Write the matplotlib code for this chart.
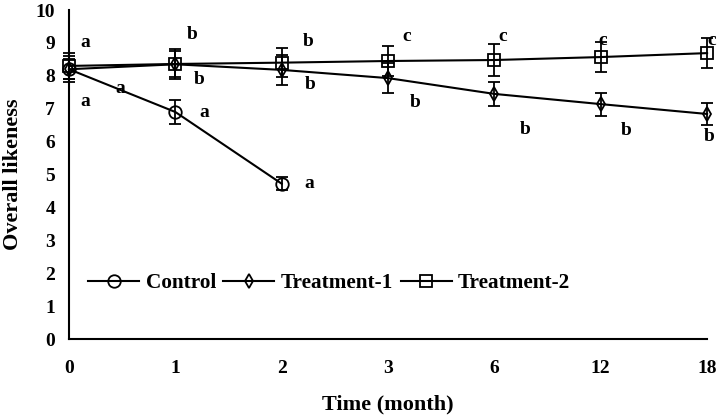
import numpy as np
import matplotlib
matplotlib.use("Agg")
import matplotlib.pyplot as plt

# data
months = ["0", "1", "2", "3", "6", "12", "18"]

control = [8.2, 6.9, 4.72]
control_err = [0.3, 0.35, 0.2]
control_letters = ["a", "a", "a"]

treat1 = [8.2, 8.35, 8.18, 7.93, 7.45, 7.14, 6.84]
treat1_err = [0.4, 0.4, 0.45, 0.45, 0.37, 0.35, 0.33]
treat1_letters = ["a", "b", "b", "b", "b", "b", "b"]

treat2 = [8.3, 8.36, 8.4, 8.45, 8.48, 8.57, 8.69]
treat2_err = [0.4, 0.45, 0.45, 0.45, 0.48, 0.45, 0.45]
treat2_letters = ["a", "b", "b", "c", "c", "c", "c"]

plt.rcParams["font.family"] = ["Liberation Serif", "DejaVu Serif"]
plt.rcParams["font.weight"] = "bold"

fig = plt.figure(figsize=(7.21, 4.17), dpi=100)
ax = fig.add_axes([0.0957, 0.187, 0.885, 0.789])

x = np.arange(len(months))

series = [
    (control, control_err, "o", 9, "Control"),
    (treat1, treat1_err, "d", 7, "Treatment-1"),
    (treat2, treat2_err, "s", 8.5, "Treatment-2"),
]
for vals, err, mk, ms, lab in series:
    xx = x[:len(vals)]
    ax.errorbar(xx, vals, yerr=err, fmt="none", ecolor="black",
                elinewidth=1.3, capsize=4, capthick=1.3, clip_on=False)
    ax.plot(xx, vals, color="black", lw=1.5, marker=mk, ms=ms,
            mfc="none", mec="black", mew=1.3, label=lab, clip_on=False)

# significance letters (offsets in pixels)
t2_off = [(16, 23), (17, 29), (26, 21), (19, 25), (8, 24), (2, 17), (5, 13)]
t1_off = [(16, -32), (24, -15), (28, -15), (27, -24), (31, -36), (25, -26),
          (2, -23)]
c_off = [(51, -19), (29, 0), (28, 0)]
for vals, letters, offs in [(treat2, treat2_letters, t2_off),
                            (treat1, treat1_letters, t1_off),
                            (control, control_letters, c_off)]:
    for i, (v, let) in enumerate(zip(vals, letters)):
        ax.annotate(let, (x[i], v), xytext=offs[i],
                    textcoords="offset pixels", ha="center", va="center",
                    fontsize=14, fontweight="bold", annotation_clip=False)

ax.set_xlim(0, 6)
ax.set_ylim(0, 10)
ax.set_xticks(x)
ax.set_xticklabels(months)
ax.set_yticks(range(0, 11))
ax.tick_params(length=0, labelsize=14)
ax.tick_params(axis="y", pad=10)
ax.tick_params(axis="x", pad=15)
for s in ["top", "right"]:
    ax.spines[s].set_visible(False)
for s in ["left", "bottom"]:
    ax.spines[s].set_linewidth(1.5)

ax.set_xlabel("Time (month)", fontsize=16, fontweight="bold", labelpad=13)
ax.set_ylabel("Overall likeness", fontsize=16, fontweight="bold", labelpad=9)

ax.legend(loc="center left", bbox_to_anchor=(0.03, 0.17), ncol=3,
          frameon=False, fontsize=15.3, handlelength=2.4, handletextpad=0.3,
          columnspacing=0.35, borderpad=0, borderaxespad=0)

fig.savefig("out.png", dpi=100)
